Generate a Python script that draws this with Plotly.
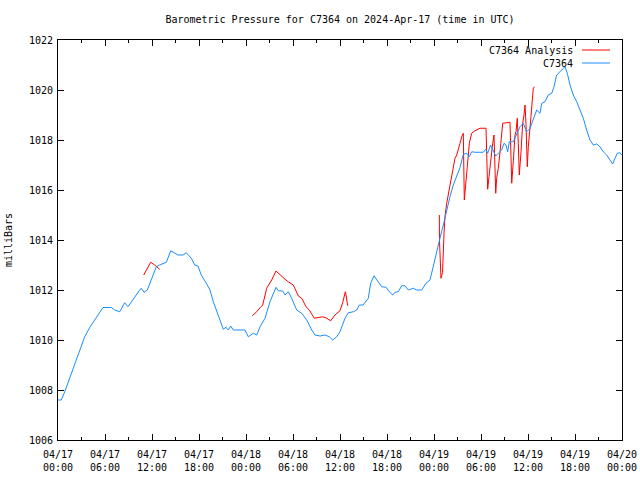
import plotly.graph_objects as go
from datetime import datetime, timedelta

BASE = datetime(2024, 4, 17, 0, 0)

# C7364 observed (hours since 2024-04-17 00:00 UTC, mb)
obs_hours = [0.0, 0.42, 0.86, 1.49, 2.13, 2.77, 3.41, 4.05, 4.69, 5.32, 5.74, 6.80, 7.24, 7.88, 8.51, 8.94,
             9.79, 10.43, 10.63, 10.98, 11.40, 12.0, 12.55, 12.98, 13.83, 14.39, 14.68, 15.32, 15.96, 16.38,
             17.02, 17.45, 17.87, 18.29, 19.06, 19.40, 19.83, 20.26, 20.68, 21.10, 21.45, 21.74, 22.05, 22.38,
             23.87, 24.29, 24.93, 25.37, 25.79, 26.43, 27.06, 27.49, 27.83, 28.12, 28.69, 28.98, 29.40, 29.83,
             30.47, 31.11, 31.75, 32.39, 32.81, 33.45, 34.09, 34.63, 35.07, 35.58, 36.0, 36.64, 37.06, 37.70,
             38.13, 38.46, 38.94, 39.61, 39.92, 40.34, 40.68, 41.32, 41.87, 42.29, 42.73, 43.02, 43.44, 43.88,
             44.30, 44.72, 45.36, 45.79, 46.43, 46.98, 47.49, 47.83, 48.26, 48.55, 48.86, 49.19, 49.62, 50.04,
             50.46, 50.90, 51.32, 51.74, 52.17, 52.51, 52.81, 53.23, 54.29, 54.60, 54.85, 55.23, 55.57, 55.88,
             56.21, 56.64, 56.94, 57.19, 57.41, 57.61, 58.12, 58.56, 58.98, 59.40, 59.83, 60.26, 60.68, 61.11,
             61.53, 61.75, 62.17, 62.59, 63.03, 63.32, 63.66, 64.09, 64.51, 64.72, 65.02, 65.36, 65.78, 66.22,
             66.64, 67.06, 67.49, 67.91, 68.34, 68.77, 69.19, 69.61, 70.04, 70.47, 70.81, 71.11, 71.40, 71.74,
             71.96]
obs_mb = [1007.6, 1007.6, 1007.93, 1008.47, 1009.0, 1009.53, 1010.13, 1010.5, 1010.8, 1011.09, 1011.3, 1011.3,
          1011.2, 1011.13, 1011.49, 1011.33, 1011.73, 1012.0, 1012.07, 1011.91, 1012.0, 1012.53, 1012.93, 1013.0,
          1013.11, 1013.57, 1013.51, 1013.4, 1013.4, 1013.49, 1013.27, 1013.0, 1012.96, 1012.6, 1012.2, 1012.0,
          1011.53, 1011.13, 1010.73, 1010.43, 1010.51, 1010.4, 1010.56, 1010.4, 1010.4, 1010.13, 1010.27, 1010.2,
          1010.53, 1010.87, 1011.53, 1011.87, 1012.11, 1011.97, 1011.96, 1011.8, 1011.93, 1011.67, 1011.2, 1011.07,
          1010.8, 1010.4, 1010.2, 1010.16, 1010.2, 1010.13, 1010.0, 1010.13, 1010.33, 1010.87, 1011.09, 1011.13,
          1011.2, 1011.4, 1011.4, 1011.67, 1012.27, 1012.57, 1012.4, 1012.13, 1012.11, 1011.93, 1011.8, 1011.91,
          1011.93, 1012.17, 1012.17, 1012.0, 1012.07, 1012.0, 1012.0, 1012.27, 1012.4, 1012.87, 1013.33, 1013.8,
          1014.2, 1014.6, 1015.2, 1015.73, 1016.2, 1016.6, 1016.9, 1017.43, 1017.47, 1017.33, 1017.53, 1017.51,
          1017.51, 1017.63, 1017.47, 1017.8, 1017.6, 1017.36, 1017.47, 1017.6, 1017.87, 1017.8, 1017.53, 1017.93,
          1017.93, 1018.27, 1018.53, 1018.67, 1018.33, 1018.47, 1018.8, 1019.2, 1019.07, 1019.47, 1019.53, 1019.8,
          1019.87, 1020.13, 1020.6, 1020.73, 1020.87, 1020.93, 1020.67, 1020.2, 1019.8, 1019.53, 1019.2, 1018.87,
          1018.4, 1018.0, 1017.8, 1017.84, 1017.73, 1017.53, 1017.4, 1017.2, 1017.04, 1017.27, 1017.47, 1017.49,
          1017.4]

# C7364 Analysis (None = gap)
ana_hours = [10.94, 11.83, 12.34, 12.98, None,
             24.80, 25.37, 25.79, 26.13, 26.64, 27.28, 27.83, 28.34, 28.98, 29.40, 30.04, 30.68, 31.11, 31.66,
             32.08, 32.72, 33.23, 33.79, 34.30, 34.81, 35.36, 36.0, 36.34, 36.68, 36.77, 36.98, None,
             48.68, 48.70, 48.89, 49.09, 49.28, 49.40, 49.62, 49.83, 50.04, 50.26, 50.46, 50.68, 50.90, 51.10,
             51.32, 51.54, 51.74, 51.87, 52.05, 52.25, 52.51, 52.81, 53.23, 53.87, 54.64, 54.73, 54.85, 55.02,
             55.23, 55.44, 55.66, 55.75, 55.88, 56.0, 56.21, 56.43, 56.60, 56.77, 57.28, 57.70, 57.83, 57.92,
             58.12, 58.34, 58.47, 58.63, 58.76, 58.89, 59.11, 59.32, 59.49, 59.62, 59.74, 59.91, 60.04, 60.26,
             60.38, 60.55, 60.68, 60.81]
ana_mb = [1012.6, 1013.11, 1013.0, 1012.83, None,
          1010.97, 1011.13, 1011.29, 1011.4, 1012.07, 1012.4, 1012.76, 1012.6, 1012.43, 1012.33, 1012.2, 1011.76,
          1011.67, 1011.33, 1011.2, 1010.87, 1010.89, 1010.93, 1010.87, 1010.77, 1011.0, 1011.17, 1011.49, 1011.93,
          1011.8, 1011.37, None,
          1015.0, 1014.0, 1012.47, 1012.7, 1014.27, 1014.93, 1015.47, 1015.8, 1016.2, 1016.53, 1016.87, 1017.27,
          1017.4, 1017.67, 1017.87, 1018.13, 1018.27, 1015.6, 1016.13, 1016.93, 1017.87, 1018.27, 1018.37, 1018.47,
          1018.47, 1017.2, 1016.03, 1016.53, 1017.2, 1017.73, 1018.2, 1017.2, 1015.87, 1016.47, 1016.87, 1017.53,
          1018.27, 1018.67, 1018.69, 1018.71, 1017.33, 1016.27, 1017.13, 1018.2, 1018.33, 1018.87, 1017.87, 1016.6,
          1017.53, 1018.67, 1019.0, 1019.4, 1018.67, 1016.93, 1017.73, 1018.4, 1018.93, 1019.6, 1020.07, 1020.13]

y_ticks = [1006, 1008, 1010, 1012, 1014, 1016, 1018, 1020, 1022]
x_tick_hours = [0, 6, 12, 18, 24, 30, 36, 42, 48, 54, 60, 66, 72]


def to_dt(hs):
    return [None if h is None else BASE + timedelta(hours=h) for h in hs]


RED = "#ff0000"
BLUE = "#1a8cff"
FONT = "DejaVu Sans Mono"

fig = go.Figure()
fig.add_trace(go.Scatter(x=to_dt(ana_hours), y=ana_mb, mode="lines", name="C7364 Analysis",
                         line=dict(color=RED, width=1), connectgaps=False))
fig.add_trace(go.Scatter(x=to_dt(obs_hours), y=obs_mb, mode="lines", name="C7364",
                         line=dict(color=BLUE, width=1)))

tickvals = to_dt(x_tick_hours)
ticktext = [d.strftime("%m/%d") + "<br>" + d.strftime("%H:%M") for d in tickvals]

fig.update_layout(
    width=640, height=480,
    margin=dict(l=58, r=18, t=40, b=40),
    paper_bgcolor="white", plot_bgcolor="white",
    font=dict(family=FONT, size=10, color="black"),
    showlegend=False,
    hovermode=False,
    title=dict(text="Barometric Pressure for C7364 on 2024-Apr-17 (time in UTC)",
               xref="paper", x=0.5, xanchor="center", y=1 - 19 / 480, yanchor="middle",
               font=dict(family=FONT, size=10)),
    xaxis=dict(range=[BASE, BASE + timedelta(hours=72)], tickvals=tickvals, ticktext=ticktext,
               showgrid=False, zeroline=False, showline=True, linecolor="black", linewidth=1,
               mirror="ticks", ticks="inside", ticklen=6, tickcolor="black", automargin=False,
               ticklabelstandoff=5,
               minor=dict(dtick=3 * 3600 * 1000, tick0=BASE, ticks="inside", ticklen=3, tickcolor="black"),
               tickfont=dict(family=FONT, size=10)),
    yaxis=dict(range=[1006, 1022], tickvals=y_ticks, showgrid=False, zeroline=False,
               showline=True, linecolor="black", linewidth=1, mirror="ticks", automargin=False,
               ticks="inside", ticklen=6, tickcolor="black", ticklabelstandoff=2,
               title=dict(text="milliBars", standoff=14, font=dict(family=FONT, size=10)),
               tickfont=dict(family=FONT, size=10)),
)

# legend drawn gnuplot-style (text then sample line)
legend_items = [("C7364 Analysis", RED, 50), ("C7364", BLUE, 63)]
for label, color, ypx in legend_items:
    yp = 1 - (ypx - 40) / 400
    fig.add_annotation(xref="paper", yref="paper", x=(575 - 58) / 564, y=yp, text=label,
                       showarrow=False, xanchor="right", yanchor="middle",
                       font=dict(family=FONT, size=10, color="black"))
    fig.add_shape(type="line", xref="paper", yref="paper",
                  x0=(582 - 58) / 564, x1=(610 - 58) / 564, y0=yp, y1=yp,
                  line=dict(color=color, width=1))

fig.write_html("out.html", config={"displayModeBar": False, "staticPlot": True},
               post_script="document.body.style.margin='0';")
